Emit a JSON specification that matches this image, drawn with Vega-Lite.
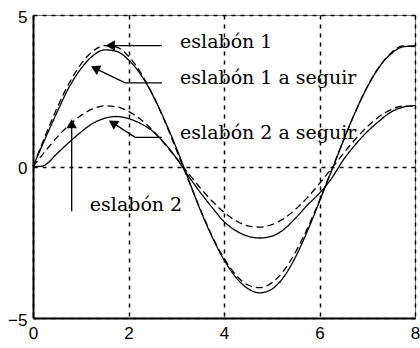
{
  "$schema": "https://vega.github.io/schema/vega-lite/v6.json",
  "width": 382,
  "height": 303,
  "autosize": {"type": "none"},
  "padding": {"left": 33, "top": 15, "right": 5, "bottom": 30},
  "background": "white",
  "config": {
    "view": {"stroke": "#777777", "strokeWidth": 1},
    "axis": {
      "grid": true,
      "gridColor": "black",
      "gridDash": [4, 5],
      "gridWidth": 1.5,
      "gridOpacity": 1,
      "domainColor": "black",
      "domainWidth": 2,
      "ticks": false,
      "labelFont": "Liberation Sans, Arial, sans-serif",
      "labelFontSize": 17,
      "labelColor": "black",
      "labelFlush": false,
      "title": null
    }
  },
  "datasets": {
    "curvas": [
      {"s": "eslabón 1 a seguir", "t": "ref", "x": 0, "y": 0},
      {"s": "eslabón 1 a seguir", "t": "ref", "x": 0.25, "y": 0.99},
      {"s": "eslabón 1 a seguir", "t": "ref", "x": 0.5, "y": 1.92},
      {"s": "eslabón 1 a seguir", "t": "ref", "x": 0.75, "y": 2.73},
      {"s": "eslabón 1 a seguir", "t": "ref", "x": 1.0, "y": 3.37},
      {"s": "eslabón 1 a seguir", "t": "ref", "x": 1.25, "y": 3.80},
      {"s": "eslabón 1 a seguir", "t": "ref", "x": 1.5, "y": 3.99},
      {"s": "eslabón 1 a seguir", "t": "ref", "x": 1.75, "y": 3.94},
      {"s": "eslabón 1 a seguir", "t": "ref", "x": 2.0, "y": 3.64},
      {"s": "eslabón 1 a seguir", "t": "ref", "x": 2.25, "y": 3.11},
      {"s": "eslabón 1 a seguir", "t": "ref", "x": 2.5, "y": 2.39},
      {"s": "eslabón 1 a seguir", "t": "ref", "x": 2.75, "y": 1.53},
      {"s": "eslabón 1 a seguir", "t": "ref", "x": 3.0, "y": 0.56},
      {"s": "eslabón 1 a seguir", "t": "ref", "x": 3.25, "y": -0.43},
      {"s": "eslabón 1 a seguir", "t": "ref", "x": 3.5, "y": -1.40},
      {"s": "eslabón 1 a seguir", "t": "ref", "x": 3.75, "y": -2.29},
      {"s": "eslabón 1 a seguir", "t": "ref", "x": 4.0, "y": -3.03},
      {"s": "eslabón 1 a seguir", "t": "ref", "x": 4.25, "y": -3.58},
      {"s": "eslabón 1 a seguir", "t": "ref", "x": 4.5, "y": -3.91},
      {"s": "eslabón 1 a seguir", "t": "ref", "x": 4.75, "y": -4.00},
      {"s": "eslabón 1 a seguir", "t": "ref", "x": 5.0, "y": -3.84},
      {"s": "eslabón 1 a seguir", "t": "ref", "x": 5.25, "y": -3.44},
      {"s": "eslabón 1 a seguir", "t": "ref", "x": 5.5, "y": -2.82},
      {"s": "eslabón 1 a seguir", "t": "ref", "x": 5.75, "y": -2.03},
      {"s": "eslabón 1 a seguir", "t": "ref", "x": 6.0, "y": -1.12},
      {"s": "eslabón 1 a seguir", "t": "ref", "x": 6.25, "y": -0.13},
      {"s": "eslabón 1 a seguir", "t": "ref", "x": 6.5, "y": 0.86},
      {"s": "eslabón 1 a seguir", "t": "ref", "x": 6.75, "y": 1.80},
      {"s": "eslabón 1 a seguir", "t": "ref", "x": 7.0, "y": 2.63},
      {"s": "eslabón 1 a seguir", "t": "ref", "x": 7.25, "y": 3.29},
      {"s": "eslabón 1 a seguir", "t": "ref", "x": 7.5, "y": 3.75},
      {"s": "eslabón 1 a seguir", "t": "ref", "x": 7.75, "y": 3.98},
      {"s": "eslabón 1 a seguir", "t": "ref", "x": 8.0, "y": 3.96},

      {"s": "eslabón 1", "t": "real", "x": 0, "y": 0},
      {"s": "eslabón 1", "t": "real", "x": 0.25, "y": 0.90},
      {"s": "eslabón 1", "t": "real", "x": 0.5, "y": 1.78},
      {"s": "eslabón 1", "t": "real", "x": 0.75, "y": 2.60},
      {"s": "eslabón 1", "t": "real", "x": 1.0, "y": 3.22},
      {"s": "eslabón 1", "t": "real", "x": 1.25, "y": 3.65},
      {"s": "eslabón 1", "t": "real", "x": 1.5, "y": 3.85},
      {"s": "eslabón 1", "t": "real", "x": 1.75, "y": 3.80},
      {"s": "eslabón 1", "t": "real", "x": 2.0, "y": 3.52},
      {"s": "eslabón 1", "t": "real", "x": 2.25, "y": 3.05},
      {"s": "eslabón 1", "t": "real", "x": 2.5, "y": 2.38},
      {"s": "eslabón 1", "t": "real", "x": 2.75, "y": 1.55},
      {"s": "eslabón 1", "t": "real", "x": 3.0, "y": 0.62},
      {"s": "eslabón 1", "t": "real", "x": 3.25, "y": -0.40},
      {"s": "eslabón 1", "t": "real", "x": 3.5, "y": -1.42},
      {"s": "eslabón 1", "t": "real", "x": 3.75, "y": -2.32},
      {"s": "eslabón 1", "t": "real", "x": 4.0, "y": -3.08},
      {"s": "eslabón 1", "t": "real", "x": 4.25, "y": -3.66},
      {"s": "eslabón 1", "t": "real", "x": 4.5, "y": -4.03},
      {"s": "eslabón 1", "t": "real", "x": 4.75, "y": -4.17},
      {"s": "eslabón 1", "t": "real", "x": 5.0, "y": -4.05},
      {"s": "eslabón 1", "t": "real", "x": 5.25, "y": -3.65},
      {"s": "eslabón 1", "t": "real", "x": 5.5, "y": -2.98},
      {"s": "eslabón 1", "t": "real", "x": 5.75, "y": -2.12},
      {"s": "eslabón 1", "t": "real", "x": 6.0, "y": -1.15},
      {"s": "eslabón 1", "t": "real", "x": 6.25, "y": -0.15},
      {"s": "eslabón 1", "t": "real", "x": 6.5, "y": 0.85},
      {"s": "eslabón 1", "t": "real", "x": 6.75, "y": 1.80},
      {"s": "eslabón 1", "t": "real", "x": 7.0, "y": 2.62},
      {"s": "eslabón 1", "t": "real", "x": 7.25, "y": 3.28},
      {"s": "eslabón 1", "t": "real", "x": 7.5, "y": 3.72},
      {"s": "eslabón 1", "t": "real", "x": 7.75, "y": 3.95},
      {"s": "eslabón 1", "t": "real", "x": 8.0, "y": 3.98},

      {"s": "eslabón 2 a seguir", "t": "ref", "x": 0, "y": 0},
      {"s": "eslabón 2 a seguir", "t": "ref", "x": 0.25, "y": 0.49},
      {"s": "eslabón 2 a seguir", "t": "ref", "x": 0.5, "y": 0.96},
      {"s": "eslabón 2 a seguir", "t": "ref", "x": 0.75, "y": 1.36},
      {"s": "eslabón 2 a seguir", "t": "ref", "x": 1.0, "y": 1.68},
      {"s": "eslabón 2 a seguir", "t": "ref", "x": 1.25, "y": 1.90},
      {"s": "eslabón 2 a seguir", "t": "ref", "x": 1.5, "y": 2.00},
      {"s": "eslabón 2 a seguir", "t": "ref", "x": 1.75, "y": 1.97},
      {"s": "eslabón 2 a seguir", "t": "ref", "x": 2.0, "y": 1.82},
      {"s": "eslabón 2 a seguir", "t": "ref", "x": 2.25, "y": 1.56},
      {"s": "eslabón 2 a seguir", "t": "ref", "x": 2.5, "y": 1.20},
      {"s": "eslabón 2 a seguir", "t": "ref", "x": 2.75, "y": 0.76},
      {"s": "eslabón 2 a seguir", "t": "ref", "x": 3.0, "y": 0.28},
      {"s": "eslabón 2 a seguir", "t": "ref", "x": 3.25, "y": -0.22},
      {"s": "eslabón 2 a seguir", "t": "ref", "x": 3.5, "y": -0.70},
      {"s": "eslabón 2 a seguir", "t": "ref", "x": 3.75, "y": -1.14},
      {"s": "eslabón 2 a seguir", "t": "ref", "x": 4.0, "y": -1.51},
      {"s": "eslabón 2 a seguir", "t": "ref", "x": 4.25, "y": -1.79},
      {"s": "eslabón 2 a seguir", "t": "ref", "x": 4.5, "y": -1.96},
      {"s": "eslabón 2 a seguir", "t": "ref", "x": 4.75, "y": -2.00},
      {"s": "eslabón 2 a seguir", "t": "ref", "x": 5.0, "y": -1.92},
      {"s": "eslabón 2 a seguir", "t": "ref", "x": 5.25, "y": -1.72},
      {"s": "eslabón 2 a seguir", "t": "ref", "x": 5.5, "y": -1.41},
      {"s": "eslabón 2 a seguir", "t": "ref", "x": 5.75, "y": -1.02},
      {"s": "eslabón 2 a seguir", "t": "ref", "x": 6.0, "y": -0.56},
      {"s": "eslabón 2 a seguir", "t": "ref", "x": 6.25, "y": -0.07},
      {"s": "eslabón 2 a seguir", "t": "ref", "x": 6.5, "y": 0.43},
      {"s": "eslabón 2 a seguir", "t": "ref", "x": 6.75, "y": 0.90},
      {"s": "eslabón 2 a seguir", "t": "ref", "x": 7.0, "y": 1.31},
      {"s": "eslabón 2 a seguir", "t": "ref", "x": 7.25, "y": 1.65},
      {"s": "eslabón 2 a seguir", "t": "ref", "x": 7.5, "y": 1.88},
      {"s": "eslabón 2 a seguir", "t": "ref", "x": 7.75, "y": 1.99},
      {"s": "eslabón 2 a seguir", "t": "ref", "x": 8.0, "y": 1.98},

      {"s": "eslabón 2", "t": "real", "x": 0, "y": 0},
      {"s": "eslabón 2", "t": "real", "x": 0.125, "y": 0.0},
      {"s": "eslabón 2", "t": "real", "x": 0.25, "y": 0.05},
      {"s": "eslabón 2", "t": "real", "x": 0.5, "y": 0.42},
      {"s": "eslabón 2", "t": "real", "x": 0.75, "y": 0.79},
      {"s": "eslabón 2", "t": "real", "x": 1.0, "y": 1.13},
      {"s": "eslabón 2", "t": "real", "x": 1.25, "y": 1.42},
      {"s": "eslabón 2", "t": "real", "x": 1.5, "y": 1.59},
      {"s": "eslabón 2", "t": "real", "x": 1.75, "y": 1.65},
      {"s": "eslabón 2", "t": "real", "x": 2.0, "y": 1.58},
      {"s": "eslabón 2", "t": "real", "x": 2.25, "y": 1.42},
      {"s": "eslabón 2", "t": "real", "x": 2.5, "y": 1.17},
      {"s": "eslabón 2", "t": "real", "x": 2.75, "y": 0.78},
      {"s": "eslabón 2", "t": "real", "x": 3.0, "y": 0.28},
      {"s": "eslabón 2", "t": "real", "x": 3.25, "y": -0.30},
      {"s": "eslabón 2", "t": "real", "x": 3.5, "y": -0.85},
      {"s": "eslabón 2", "t": "real", "x": 3.75, "y": -1.35},
      {"s": "eslabón 2", "t": "real", "x": 4.0, "y": -1.82},
      {"s": "eslabón 2", "t": "real", "x": 4.25, "y": -2.12},
      {"s": "eslabón 2", "t": "real", "x": 4.5, "y": -2.30},
      {"s": "eslabón 2", "t": "real", "x": 4.75, "y": -2.36},
      {"s": "eslabón 2", "t": "real", "x": 5.0, "y": -2.30},
      {"s": "eslabón 2", "t": "real", "x": 5.25, "y": -2.08},
      {"s": "eslabón 2", "t": "real", "x": 5.5, "y": -1.70},
      {"s": "eslabón 2", "t": "real", "x": 5.75, "y": -1.27},
      {"s": "eslabón 2", "t": "real", "x": 6.0, "y": -0.88},
      {"s": "eslabón 2", "t": "real", "x": 6.25, "y": -0.40},
      {"s": "eslabón 2", "t": "real", "x": 6.5, "y": 0.22},
      {"s": "eslabón 2", "t": "real", "x": 6.75, "y": 0.72},
      {"s": "eslabón 2", "t": "real", "x": 7.0, "y": 1.15},
      {"s": "eslabón 2", "t": "real", "x": 7.25, "y": 1.50},
      {"s": "eslabón 2", "t": "real", "x": 7.5, "y": 1.80},
      {"s": "eslabón 2", "t": "real", "x": 7.75, "y": 1.96},
      {"s": "eslabón 2", "t": "real", "x": 8.0, "y": 2.01}
    ],
    "rotulos": [
      {"texto": "eslabón 1", "x": 3.08, "y": 3.90},
      {"texto": "eslabón 1 a seguir", "x": 3.08, "y": 2.73},
      {"texto": "eslabón 2 a seguir", "x": 3.08, "y": 0.91},
      {"texto": "eslabón 2", "x": 1.19, "y": -1.48}
    ],
    "guias": [
      {"id": "f1", "k": 0, "x": 2.70, "y": 3.99},
      {"id": "f1", "k": 1, "x": 1.62, "y": 3.99},
      {"id": "f2", "k": 0, "x": 2.70, "y": 2.76},
      {"id": "f2", "k": 1, "x": 1.93, "y": 2.76},
      {"id": "f2", "k": 2, "x": 1.30, "y": 3.24},
      {"id": "f3", "k": 0, "x": 2.70, "y": 0.96},
      {"id": "f3", "k": 1, "x": 2.14, "y": 0.96},
      {"id": "f3", "k": 2, "x": 1.67, "y": 1.44},
      {"id": "f4", "k": 0, "x": 0.81, "y": -1.48},
      {"id": "f4", "k": 1, "x": 0.81, "y": 1.41}
    ],
    "puntas": [
      {"id": "f1", "x": 1.62, "y": 3.99},
      {"id": "f2", "x": 1.30, "y": 3.24},
      {"id": "f3", "x": 1.67, "y": 1.44},
      {"id": "f4", "x": 0.81, "y": 1.41}
    ]
  },
  "layer": [
    {
      "data": {"name": "curvas"},
      "mark": {"type": "line", "color": "black", "strokeWidth": 1.3, "interpolate": "monotone"},
      "encoding": {
        "x": {
          "field": "x", "type": "quantitative",
          "scale": {"domain": [0, 8], "nice": false, "zero": false},
          "axis": {"values": [0, 2, 4, 6, 8], "labelPadding": 7}
        },
        "y": {
          "field": "y", "type": "quantitative",
          "scale": {"domain": [-5, 5], "nice": false, "zero": false},
          "axis": {"values": [-5, 0, 5], "labelPadding": 6, "labelOffset": 2}
        },
        "detail": {"field": "s"},
        "strokeDash": {
          "field": "t", "type": "nominal",
          "scale": {"domain": ["real", "ref"], "range": [[1, 0], [7, 4]]},
          "legend": null
        }
      }
    },
    {
      "mark": {"type": "rule", "color": "black", "strokeWidth": 2},
      "encoding": {"x": {"datum": 8, "type": "quantitative"}}
    },
    {
      "data": {"name": "guias"},
      "mark": {"type": "line", "color": "black", "strokeWidth": 1.3},
      "encoding": {
        "x": {"field": "x", "type": "quantitative"},
        "y": {"field": "y", "type": "quantitative"},
        "detail": {"field": "id"},
        "order": {"field": "k"}
      }
    },
    {
      "data": {"name": "puntas"},
      "transform": [{"filter": "datum.id == 'f1'"}],
      "mark": {"type": "point", "shape": "triangle-up", "angle": 270, "size": 110, "filled": true, "color": "black", "opacity": 1},
      "encoding": {
        "x": {"field": "x", "type": "quantitative"},
        "y": {"field": "y", "type": "quantitative"}
      }
    },
    {
      "data": {"name": "puntas"},
      "transform": [{"filter": "datum.id == 'f2'"}],
      "mark": {"type": "point", "shape": "triangle-up", "angle": 296, "size": 110, "filled": true, "color": "black", "opacity": 1},
      "encoding": {
        "x": {"field": "x", "type": "quantitative"},
        "y": {"field": "y", "type": "quantitative"}
      }
    },
    {
      "data": {"name": "puntas"},
      "transform": [{"filter": "datum.id == 'f3'"}],
      "mark": {"type": "point", "shape": "triangle-up", "angle": 303, "size": 110, "filled": true, "color": "black", "opacity": 1},
      "encoding": {
        "x": {"field": "x", "type": "quantitative"},
        "y": {"field": "y", "type": "quantitative"}
      }
    },
    {
      "data": {"name": "puntas"},
      "transform": [{"filter": "datum.id == 'f4'"}],
      "mark": {"type": "point", "shape": "triangle-up", "angle": 0, "size": 110, "filled": true, "color": "black", "opacity": 1},
      "encoding": {
        "x": {"field": "x", "type": "quantitative"},
        "y": {"field": "y", "type": "quantitative"}
      }
    },
    {
      "data": {"name": "rotulos"},
      "mark": {"type": "text", "align": "left", "baseline": "alphabetic", "font": "DejaVu Serif", "fontSize": 19, "color": "black"},
      "encoding": {
        "x": {"field": "x", "type": "quantitative"},
        "y": {"field": "y", "type": "quantitative"},
        "text": {"field": "texto"}
      }
    }
  ]
}
